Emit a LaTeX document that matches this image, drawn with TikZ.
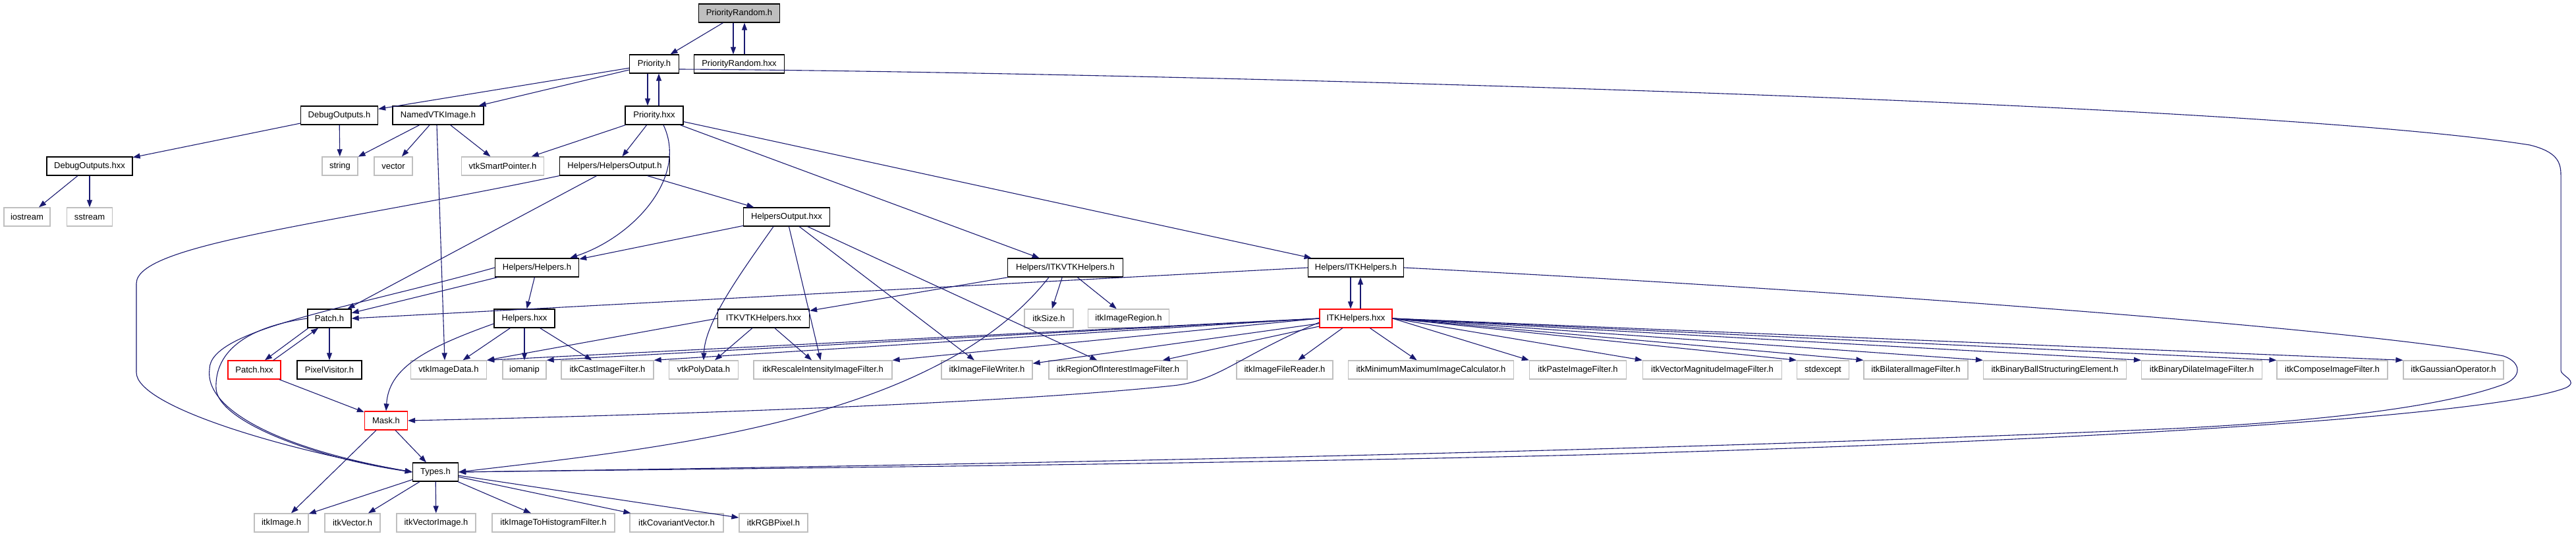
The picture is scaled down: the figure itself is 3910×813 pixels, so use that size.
\documentclass[tikz,border=0pt]{standalone}
\usepackage{fontspec}
\setmainfont{Liberation Sans}
\usetikzlibrary{arrows.meta}
\definecolor{EdgeBlue}{RGB}{25,25,112}
\definecolor{ExtGray}{RGB}{191,191,191}
\definecolor{TruncRed}{RGB}{255,0,0}
\tikzset{
  docnode/.style={draw=black, line width=1.3pt, fill=white, minimum height=28pt, inner sep=2pt, font=\fontsize{13}{15}\selectfont},
  extnode/.style={docnode, draw=ExtGray},
  trunode/.style={docnode, draw=TruncRed},
  rootnode/.style={docnode, fill=ExtGray},
  dep/.style={-{Triangle[length=11pt,width=8pt]}, EdgeBlue, line width=1.1pt},
}

\begin{document}
\begin{tikzpicture}[x=1pt, y=-1pt]
                \useasboundingbox (0,0) rectangle (3910,813);
                % Nodos
                \node[rootnode, minimum width=123] (prrandh) at (1122,20) {PriorityRandom.h};
                \node[docnode, minimum width=75] (priorityh) at (993,97) {Priority.h};
                \node[docnode, minimum width=137] (prrandhxx) at (1122,97) {PriorityRandom.hxx};
                
                \node[docnode, minimum width=117] (dbgh) at (515,175) {DebugOutputs.h};
                \node[docnode, minimum width=138] (namedvtk) at (665,175) {NamedVTKImage.h};
                \node[docnode, minimum width=88] (priorityhxx) at (993,175) {Priority.hxx};
                
                \node[docnode, minimum width=130] (dbghxx) at (136,252) {DebugOutputs.hxx};
                \node[extnode, minimum width=54] (string) at (516,252) {string};
                \node[extnode, minimum width=58] (vector) at (597,252) {vector};
                \node[extnode, minimum width=125] (vtksmart) at (763,252) {vtkSmartPointer.h};
                \node[docnode, minimum width=167] (hoh) at (933,252) {Helpers/HelpersOutput.h};
                
                \node[extnode, minimum width=70] (iostream) at (41,329) {iostream};
                \node[extnode, minimum width=69] (sstream) at (136,329) {sstream};
                \node[docnode, minimum width=131] (hohxx) at (1194,329) {HelpersOutput.hxx};
                
                \node[docnode, minimum width=127] (helpersh) at (815,406) {Helpers/Helpers.h};
                \node[docnode, minimum width=175] (itkvtkh) at (1617,406) {Helpers/ITKVTKHelpers.h};
                \node[docnode, minimum width=145] (itkh) at (2058,406) {Helpers/ITKHelpers.h};
                
                \node[docnode, minimum width=66] (patchh) at (500,483) {Patch.h};
                \node[docnode, minimum width=92] (helpershxx) at (796,483) {Helpers.hxx};
                \node[docnode, minimum width=139] (itkvtkhxx) at (1159,483) {ITKVTKHelpers.hxx};
                \node[extnode, minimum width=74] (itksize) at (1592,483) {itkSize.h};
                \node[extnode, minimum width=123] (itkregion) at (1713,483) {itkImageRegion.h};
                \node[trunode, minimum width=110] (itkhxx) at (2058,483) {ITKHelpers.hxx};
                
                \node[trunode, minimum width=80] (patchhxx) at (386,561) {Patch.hxx};
                \node[docnode, minimum width=98] (pixelvisitor) at (500,561) {PixelVisitor.h};
                \node[extnode, minimum width=115] (vtkimagedata) at (681,561) {vtkImageData.h};
                \node[extnode, minimum width=66] (iomanip) at (796,561) {iomanip};
                \node[extnode, minimum width=140] (itkcast) at (922,561) {itkCastImageFilter.h};
                \node[extnode, minimum width=105] (vtkpolydata) at (1068,561) {vtkPolyData.h};
                \node[extnode, minimum width=210] (itkrescale) at (1249,561) {itkRescaleIntensityImageFilter.h};
                \node[extnode, minimum width=138] (itkwriter) at (1498,561) {itkImageFileWriter.h};
                \node[extnode, minimum width=210] (itkroi) at (1697,561) {itkRegionOfInterestImageFilter.h};
                \node[extnode, minimum width=146] (itkreader) at (1950,561) {itkImageFileReader.h};
                \node[extnode, minimum width=251] (itkminmax) at (2172,561) {itkMinimumMaximumImageCalculator.h};
                \node[extnode, minimum width=147] (itkpaste) at (2395,561) {itkPasteImageFilter.h};
                \node[extnode, minimum width=211] (itkvecmag) at (2599,561) {itkVectorMagnitudeImageFilter.h};
                \node[extnode, minimum width=79] (stdexcept) at (2767,561) {stdexcept};
                \node[extnode, minimum width=158] (itkbilateral) at (2908,561) {itkBilateralImageFilter.h};
                \node[extnode, minimum width=217] (itkball) at (3119,561) {itkBinaryBallStructuringElement.h};
                \node[extnode, minimum width=183] (itkdilate) at (3342,561) {itkBinaryDilateImageFilter.h};
                \node[extnode, minimum width=168] (itkcompose) at (3540,561) {itkComposeImageFilter.h};
                \node[extnode, minimum width=152] (itkgauss) at (3724,561) {itkGaussianOperator.h};
                
                \node[trunode, minimum width=65] (maskh) at (586,638) {Mask.h};
                \node[docnode, minimum width=69] (typesh) at (661,716) {Types.h};
                
                \node[extnode, minimum width=82] (itkimage) at (427,793) {itkImage.h};
                \node[extnode, minimum width=84] (itkvector) at (535,793) {itkVector.h};
                \node[extnode, minimum width=120] (itkvecimage) at (662,793) {itkVectorImage.h};
                \node[extnode, minimum width=186] (itkhisto) at (840,793) {itkImageToHistogramFilter.h};
                \node[extnode, minimum width=142] (itkcovar) at (1027,793) {itkCovariantVector.h};
                \node[extnode, minimum width=104] (itkrgb) at (1174,793) {itkRGBPixel.h};
                
                % Conexiones
                \draw[dep] (prrandh) -- (priorityh);
                \draw[dep] ([xshift=-9pt]prrandh.south) -- ([xshift=-9pt]prrandhxx.north);
                \draw[dep] ([xshift=8pt]prrandhxx.north) -- ([xshift=8pt]prrandh.south);
                \draw[dep] ([xshift=-10pt]priorityh.south) -- ([xshift=-10pt]priorityhxx.north);
                \draw[dep] ([xshift=7pt]priorityhxx.north) -- ([xshift=7pt]priorityh.south);
                \draw[dep] (priorityh) -- (dbgh);
                \draw[dep] (priorityh) -- (namedvtk);
                \draw[dep] ([yshift=-8pt]priorityh.east) .. controls (1600,108) and (3400,150) .. (3840,220) .. controls (3880,230) and (3887,245) .. (3887,265) -- (3887,562) .. controls (3887,570) and (3915,578) .. (3895,588) .. controls (3800,625) and (3300,665) .. (2400,690) .. controls (1800,705) and (1000,712) .. (typesh.east);
                
                \draw[dep] (dbgh) -- (dbghxx);
                \draw[dep] (dbgh) -- (string);
                \draw[dep] (dbghxx) -- (iostream);
                \draw[dep] (dbghxx) -- (sstream);
                \draw[dep] (namedvtk) -- (string);
                \draw[dep] (namedvtk) -- (vector);
                \draw[dep] (namedvtk) -- (vtksmart);
                \draw[dep] ([xshift=-2pt]namedvtk.south) -- ([xshift=-6pt]vtkimagedata.north);
                
                \draw[dep] (priorityhxx) -- (vtksmart);
                \draw[dep] (priorityhxx) -- (hoh);
                \draw[dep] ([xshift=14pt]priorityhxx.south) .. controls (1045,270) and (960,360) .. ([xshift=-14pt]helpersh.north east);
                \draw[dep] (priorityhxx) -- (itkvtkh);
                \draw[dep] (priorityhxx) -- (itkh);
                
                \draw[dep] (hoh) -- (hohxx);
                \draw[dep] (hoh) -- (patchh);
                \draw[dep] (hoh.south west) .. controls (500,340) and (207,370) .. (207,430) -- (207,565) .. controls (207,615) and (420,680) .. (typesh.west);
                \draw[dep] (hohxx) -- (helpersh);
                \draw[dep] ([xshift=-20pt]hohxx.south) .. controls (1120,420) and (1070,490) .. (vtkpolydata.north);
                \draw[dep] (hohxx) -- (itkrescale);
                \draw[dep] (hohxx) -- (itkwriter);
                \draw[dep] (hohxx) -- (itkroi);
                
                \draw[dep] (helpersh) -- (patchh);
                \draw[dep] (helpersh) -- (helpershxx);
                \draw[dep] (helpersh.west) .. controls (520,470) and (318,500) .. (318,560) .. controls (310,620) and (420,680) .. (typesh.west);
                \draw[dep] (helpershxx) -- (vtkimagedata);
                \draw[dep] (helpershxx) -- (iomanip);
                \draw[dep] (helpershxx) -- (itkcast);
                \draw[dep] ([yshift=-8pt]helpershxx.west) .. controls (640,530) and (590,560) .. (maskh.north);
                
                \draw[dep] (itkvtkh) -- (itkvtkhxx);
                \draw[dep] (itkvtkh) -- (itksize);
                \draw[dep] (itkvtkh) -- (itkregion);
                \draw[dep] ([xshift=-25pt]itkvtkh.south) .. controls (1420,640) and (1000,680) .. (typesh.east);
                \draw[dep] (itkvtkhxx.west) -- (vtkimagedata.north east);
                \draw[dep] (itkvtkhxx) -- (vtkpolydata);
                \draw[dep] (itkvtkhxx) -- (itkrescale);
                
                \draw[dep] (itkh.west) -- (patchh.east);
                \draw[dep] ([xshift=-8pt]itkh.south) -- ([xshift=-8pt]itkhxx.north);
                \draw[dep] ([xshift=7pt]itkhxx.north) -- ([xshift=7pt]itkh.south);
                \draw[dep] (itkh.east) .. controls (2800,440) and (3600,500) .. (3800,540) .. controls (3828,550) and (3828,572) .. (3800,583) .. controls (3700,620) and (3500,640) .. (3300,650) .. controls (2500,685) and (1500,705) .. (typesh.east);
                
                \draw[dep] (itkhxx.west) -- (vtkimagedata.north east);
                \draw[dep] (itkhxx.west) -- (iomanip.north east);
                \draw[dep] (itkhxx.west) -- (itkcast.north east);
                \draw[dep] (itkhxx.west) -- (itkrescale.north east);
                \draw[dep] (itkhxx) -- (itkwriter);
                \draw[dep] (itkhxx) -- (itkroi);
                \draw[dep] ([yshift=-6pt]itkhxx.west) .. controls (1880,540) and (1850,578) .. (1780,585) .. controls (1500,615) and (900,632) .. (maskh.east);
                \draw[dep] (itkhxx) -- (itkreader);
                \draw[dep] (itkhxx) -- (itkminmax);
                \draw[dep] (itkhxx.east) -- (itkpaste.north west);
                \draw[dep] (itkhxx.east) -- (itkvecmag.north west);
                \draw[dep] (itkhxx.east) -- (stdexcept.north west);
                \draw[dep] (itkhxx.east) -- (itkbilateral.north west);
                \draw[dep] (itkhxx.east) -- (itkball.north west);
                \draw[dep] (itkhxx.east) -- (itkdilate.north west);
                \draw[dep] (itkhxx.east) -- (itkcompose.north west);
                \draw[dep] (itkhxx.east) -- (itkgauss.north west);
                
                \draw[dep] ([xshift=-32pt]patchh.south) -- ([xshift=16pt]patchhxx.north);
                \draw[dep] ([xshift=29pt]patchhxx.north) -- ([xshift=-17pt]patchh.south);
                \draw[dep] (patchh) -- (pixelvisitor);
                \draw[dep] (patchh.west) .. controls (380,495) and (325,530) .. (328,590) .. controls (332,640) and (480,695) .. (typesh.west);
                \draw[dep] (patchhxx) -- (maskh);
                
                \draw[dep] (maskh) -- (typesh);
                \draw[dep] (maskh) -- (itkimage);
                \draw[dep] (typesh) -- (itkimage);
                \draw[dep] (typesh) -- (itkvector);
                \draw[dep] (typesh) -- (itkvecimage);
                \draw[dep] (typesh) -- (itkhisto);
                \draw[dep] (typesh) -- (itkcovar);
                \draw[dep] (typesh) -- (itkrgb);
                
            \end{tikzpicture}
\end{document}
